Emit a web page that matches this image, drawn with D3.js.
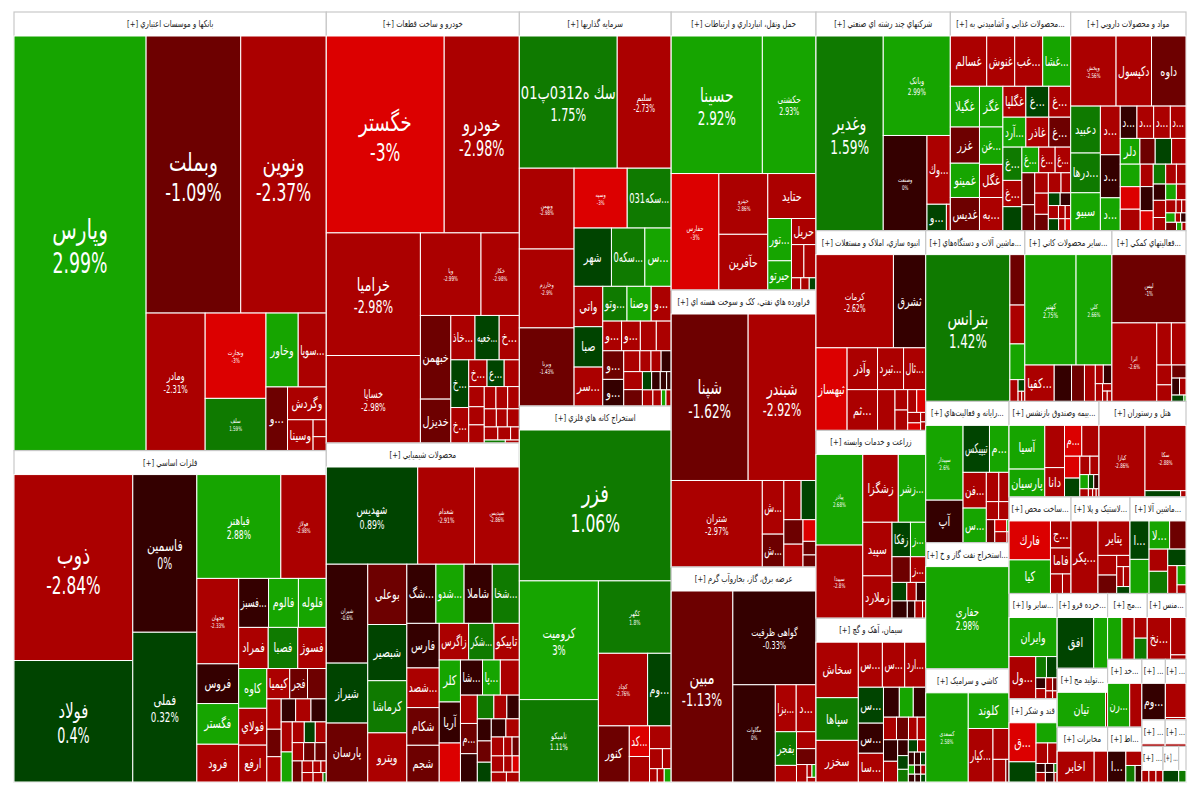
<!DOCTYPE html>
<html>
<head>
<meta charset="utf-8">
<style>
body { margin: 0; background: #fff; }
text { font-family: "DejaVu Sans", "Noto Sans", sans-serif; }
</style>
<script src="https://cdn.jsdelivr.net/npm/d3@7"></script>
</head>
<body>
<div id="viz"></div>
<script>
// [ticker, market weight, change %]  -- unlabelled small cells have an empty ticker
var banks = [["وپارس",53820,2.99],["وبملت",25760,-1.09],["ونوین",23300,-2.37],["ومادر",7980,-2.31],["ونجارت",5100,-3],["سلف",3120,1.59],["وخاور",2340,2.5],["سوپا...",2040,-2.5],["و...",1345,-1.5],["وگردش",1250,-2.5],["وسینا",775,-2.5],["",220,-2.5],["",180,-2.5]];
var metals = [["ذوب",21275,-2.84],["فولاد",13900,0.4],["فاسمین",9730,0],["فملی",9240,0.32],["فباهنر",8400,2.88],["فولاژ",4550,-2.98],["فجهان",3440,-2.33],["فروس",1600,-0.5],["فگستر",1640,2.5],["فرود",1520,-2.5],["فسبز...",1410,-0.5],["فالوم",1410,2.5],["فلوله",1316,2.5],["فمراد",1170,-2.5],["فصبا",1170,1.5],["فسوژ",1130,-2.5],["کاوه",1080,2.5],["فولاي",1000,-2.5],["ارفع",1000,-2.5],["کیمیا",670,-2.5],["فجر",520,-1.5],["",550,-1.5],["",420,-2.5],["",380,-1.5],["",350,-2.5],["",320,-0.5],["",340,-2.5],["",340,-0.5],["",320,-2.5],["",320,2.5],["",240,-2.5],["",220,0.5],["",220,-2.5],["",200,-2.5],["",200,-1.5],["",200,-1.5],["",200,-1.5],["",120,-2.5],["",90,-2.5],["",60,-2.5],["",100,-2.5],["",90,-2.5],["",30,1.5]];
var autos = [["خگستر",22270,-3],["خودرو",14200,-2.98],["خرامیا",11070,-2.98],["خساپا",7900,-2.98],["ویا",4800,-2.99],["خکار",3040,-2.98],["خبهمن",2440,-1.5],["خدیزل",1280,-1.5],["خاذ...",1030,-2.5],["خعبه...",1030,0.5],["خ...",860,-2.5],["خ...",820,0.5],["خ...",610,-2.5],["خ...",470,-2.5],["ع...",440,0.5],["",390,-2.5],["",300,-2.5],["",270,-2.5],["",270,-2.5],["",250,-2.5],["",250,-2.5],["",250,-2.5],["",210,-2.5],["",190,-2.5],["",210,-2.5],["",170,-2.5],["",160,-2.5],["",110,-2.5],["",60,1.5],["",40,-2.5]];
var chemicals = [["شهدیس",8370,0.89],["شغدام",5210,-2.91],["شپدیس",4100,-2.86],["شیران",3860,-0.6],["شیراز",2340,0.5],["پارسان",2300,-1.5],["بوعلي",2220,-1.5],["شبصیر",2070,0.5],["کرماشا",1920,1.5],["وپترو",1810,-2.5],["شگ...",1620,-0.5],["شدو...",1570,2.5],["شاملا",1570,-0.5],["شخا...",1510,1.5],["فارس",1360,-0.5],["شصد...",1210,-2.5],["شکام",1150,-1.5],["شجم",1120,-1.5],["زاگرس",1015,-2.5],["شکر...",875,1.5],["تاپیکو",875,-2.5],["کلر",840,2.5],["آریا",820,-0.5],["",780,-3],["شا...",730,-0.5],["پا...",590,2.5],["",630,-2.5],["",450,-2.5],["م...",480,-1.5],["",450,-0.5],["",370,1.5],["",290,-2.5],["",280,-0.5],["",290,-0.5],["",280,-1.5],["",260,0.5],["",250,-0.5],["",230,-2.5],["",220,-2.5],["",150,-2.5],["",130,-1.5],["",190,-2.5],["",130,-2.5],["",110,-3],["",140,-2.5],["",120,-2.5]];
var investments = [["سك ه0312پ01",12290,1.75],["سلیم",6780,-2.73],["وبهمن",4200,-2.98],["وخارزم",4100,-2.9],["وبرنا",4060,-1.43],["وسپه",3020,-3],["سکه031...",2500,1.5],["شهر",2070,0.5],["سکه0...",1850,1.5],["س...",1460,2.5],["واتي",1100,-2.5],["صبا",1100,0.5],["سر...",1060,-2.5],["وتو...",800,1.5],["وصنا",800,2.5],["و...",660,-2.5],["و...",530,-2.5],["و...",530,-2.5],["",450,-2.5],["",420,-2.5],["و...",570,-1.5],["و...",530,-0.5],["",320,-2.5],["",220,-2.5],["",200,-2.5],["",200,-0.5],["",320,-2.5],["",290,-1.5],["",160,0.5],["",150,-0.5],["",110,-0.5],["",80,-0.5],["",160,-2.5],["",130,-2.5],["",70,2.5],["",80,-2.5]];
var mining = [["فزر",22200,1.06],["کرومیت",9090,3],["تامیکو",6310,1.11],["کگهر",5110,1.8],["کچاد",3460,-2.76],["وم...",1660,0.5],["کنور",1680,-1.5],["کد...",600,-3],["",500,-2.5],["",480,-2.5],["",250,-2.5],["",170,-2.5],["",100,-2.5],["",90,-2.5],["",90,2.5]];
var transport = [["حسینا",12150,2.92],["حکشتی",7150,2.93],["حفارس",5380,-3],["حپترو",2880,-2.86],["حآفرین",2640,-2.5],["حتاید",2100,-2.5],["تور...",970,2.5],["حیرتو",670,2.5],["حریل",620,-2.5],["",400,-2.5],["",390,-2.5],["",110,-2.5],["",100,-2.5],["",80,0.5]];
var refining = [["شپنا",12300,-1.62],["شبندر",10850,-2.92],["شتران",7570,-2.97],["ش...",1110,-2.5],["ش...",680,-1.5],["",650,-2.5],["",560,0.5],["",450,-1.5],["",420,-2.5],["",270,-3],["",170,-1.5],["",150,-1.5]];
var power = [["مبین",11400,-1.13],["گواهی ظرفیت",7550,-0.33],["مگاوات",4000,0],["بزا...",950,-2.5],["د...",900,-2.5],["بفجر",690,1.5],["",340,-2.5],["",320,-2.5],["",300,-1.5],["",180,-2.5],["",60,-2.5],["",50,2.5],["",40,-2.5]];
var multi = [["وغدیر",12540,1.59],["وبانک",6400,2.99],["وصنعت",3990,0],["وك...",1540,-2.5],["و...",490,0.5],["",100,-2.5]];
var food = [["غسالم",1650,-2.5],["غنوش",1270,-2.5],["غب...",1270,-2.5],["غشا...",1270,2.5],["غگیلا",1070,2.5],["غزر",950,-1.5],["غمینو",900,2.5],["غدیس",870,-1.5],["غگز",860,2.5],["غن...",790,2.5],["غگل",700,-2.5],["به...",700,-2.5],["غگلپا",640,-2.5],["غ...",640,0.5],["غ...",610,-2.5],["آرد...",620,2.5],["غاذر",620,-2.5],["غ...",590,-1.5],["غ...",570,1.5],["غ...",450,-2.5],["",410,0.5],["غ...",390,2.5],["غ...",380,-2.5],["غ...",360,-2.5],["",370,-1.5],["",300,-1.5],["",250,-2.5],["",260,-2.5],["",200,-1.5],["",230,-2.5],["",175,-2.5],["",135,0.5],["",120,-0.5],["",120,-2.5],["",80,-2.5],["",65,-2.5],["",110,0.5],["",70,-2.5],["",60,-3]];
var pharma = [["وپخش",2830,-2.56],["دکپسول",2210,-2.5],["داوه",2150,-1.5],["دعبید",1240,1.5],["درها...",1050,1.5],["سبیو",1000,2.5],["د...",860,-2.5],["د...",760,-0.5],["د...",580,2.5],["د...",480,-0.5],["د...",480,-2.5],["د...",480,-2.5],["د...",450,-2.5],["دلر",450,2.5],["",350,-1.5],["",375,0.5],["",330,-2.5],["",400,2.5],["",400,-3],["",380,-2.5],["",260,-2.5],["",280,-0.5],["",230,-3],["",220,1.5],["",180,-0.5],["",190,-2.5],["",145,-2.5],["",190,-2.5],["",170,-2.5],["",150,2.5],["",135,-2.5],["",120,-2.5],["",65,-2.5],["",50,-2.5],["",80,2.5],["",45,-2.5],["",45,-0.5],["",80,-1.5],["",40,2.5],["",30,-2.5]];
var realEstate = [["کرمات",6690,-2.62],["ثشرق",2790,-0.5],["ثبهساز",2380,-3],["وآذر",1180,-2.5],["ثم...",1150,-2.5],["ثبرد...",1010,-2.5],["ثال...",860,-2.5],["",660,-2.5],["",240,-2.5],["",240,-2.5],["",190,-2.5],["",190,-3],["",125,-2.5],["",90,-3],["",45,-2.5],["",40,-2.5]];
var farming = [["پیاذر",3870,2.68],["سپیدا",3120,-2.8],["زشگزا",2200,-2.5],["زشر...",1700,2.5],["سپید",1430,-2.5],["زملارد",1130,-2.5],["زفکا",580,0.5],["ز...",480,2.5],["",430,-1.5],["ز...",360,-2.5],["",250,0.5],["",160,-2.5],["",160,-0.5],["",240,-0.5],["",120,-0.5],["",120,-2.5],["",50,-2.5]];
var cement = [["سخاش",2080,-2.5],["سپاها",1600,1.5],["سخزر",1560,-2.5],["س...",960,-2.5],["س...",890,-2.5],["ارد...",840,-2.5],["س...",800,0.5],["س...",670,-0.5],["سا...",640,-2.5],["",420,-0.5],["",370,2.5],["",330,-0.5],["",260,-2.5],["",240,-1.5],["",175,-2.5],["",170,-2.5],["",270,-0.5],["",260,-2.5],["",150,-0.5],["",130,0.5],["",120,1.5],["",100,0.5],["",90,-2.5],["",70,-0.5],["",70,-0.5],["",60,0.5],["",50,2.5],["",50,-0.5],["",40,-2.5],["",45,-0.5],["",40,-0.5],["",35,0.5]];
var machinery = [["بترانس",11800,1.42],["",720,-1.5],["",555,-2.5],["",510,2.5],["",170,-2.5],["",75,0.5],["",35,-2.5],["",30,-2.5]];
var minerals = [["کهتیر",5300,2.75],["کلي",3710,2.66],["کفپا...",1000,-2.5],["",590,-0.5],["",440,-1.5],["",370,-2.5],["",140,-2.5],["",150,-0.5],["",120,-2.5],["",65,-2.5],["",45,-2.5],["",45,-2.5]];
var support = [["لپس",4600,-1],["اترا",3200,-2.6],["",560,-2.5],["",560,-2.5],["",270,-2.5],["",225,-2.5],["",170,-1.5],["",120,-0.5],["",100,-2.5],["",70,0.5],["",12,2.5]];
var computing = [["سپیدار",2520,2.6],["آپ",1430,-0.5],["تیپیکس",1120,0.5],["م...",830,2.5],["فن...",750,-2.5],["س...",725,2.5],["",330,-2.5],["",270,-2.5],["",200,-2.5],["",170,-2.5],["",175,-1.5],["",130,-3],["",25,2.5],["",120,-2.5],["",20,-2.5]];
var oilGas = [["حفاری",8466,2.98]];
var tiles = [["کسعدی",3440,2.58],["کلوند",1320,2.5],["کپار...",1200,-2.5],["",450,-2.5],["",265,-2.5],["",65,-1.5]];
var insurance = [["آسیا",1350,2.5],["پارسیان",860,2.5],["",720,-2.5],["دانا",500,-2.5],["م...",460,-3],["",460,-2.5],["",290,-3],["",250,0.5],["",160,-2.5],["",145,-2.5],["",105,2.5],["",65,0.5],["",65,-0.5],["",60,-2.5],["",30,-2.5],["",25,-2.5],["",20,-2.5]];
var hotels = [["کبازا",2950,-2.86],["سکا",2400,-2.88],["",200,0.5],["",30,-2.5]];
var fabricated = [["فارك",1450,-3],["کیا",1250,2.5],["ج...",500,-2.5],["فاما",480,-2.5],["",210,-2.5],["",150,-2.5]];
var rubber = [["پکر...",1700,-2.5],["پتایر",960,-2.5],["",320,-2.5],["",300,-1.5],["",130,-2.5],["",115,-2.5],["",115,-2.5],["",80,0.5]];
var vehicles = [["ا...",620,0.5],["",550,2.5],["لا...",490,2.5],["",390,-1.5],["",350,-2.5],["",350,1.5],["",255,0.5],["",220,-2.5],["",145,2.5],["",65,-2.5]];
var otherTransport = [["وایران",1570,2.5],["ول...",940,-2.5],["",190,1.5],["",190,0.5],["",90,-0.5],["",85,-2.5],["",75,-2.5],["",50,-1.5],["",45,-2.5],["",30,-2.5]];
var sugar = [["ق...",890,-3],["",460,0.5],["",360,2.5],["",200,-2.5],["",165,-2.5],["",70,-0.5],["",65,-0.5],["",25,1.5],["",75,-2.5],["",70,-0.5],["",25,-2.5]];
var retail = [["افق",1600,0.5],["",610,2.5]];
var production = [["تیان",1400,2.5],["",60,-2.5]];
var telecom = [["اخابر",1020,-2.5],["",370,-2.5]];
var media = [["",480,2.5],["",410,-2.5],["",215,-2.5],["",220,1.5]];
var textiles = [["نخ...",780,-2.5],["",460,-2.5],["",55,-2.5]];
var wood = [["رن...",800,2.5],["",440,-2.5]];
var trade = [["ا...",480,-0.5],["",195,-2.5],["",130,1.5],["",95,-0.5]];
var small1 = [["وم...",780,-0.5]];
var small2 = [["",580,-2.5],["",40,-2.5]];
var small3 = [["",130,-2.5]];
var small4 = [["",60,-2.5]];
var small5 = [["",30,-2.5],["",30,-2.5],["",30,-2.5]];
var small6 = [["",130,0.5]];
var small7 = [["",25,1]];

var sectorNames = ["بانکها و موسسات اعتباري","فلزات اساسي","خودرو و ساخت قطعات","محصولات شيميايي","سرمايه گذاريها","استخراج کانه هاي فلزي","حمل ونقل، انبارداري و ارتباطات","فراورده هاي نفتي، کک و سوخت هسته اي","عرضه برق، گاز، بخاروآب گرم","شرکتهاي چند رشته اي صنعتي","محصولات غذايي و آشاميدني به...","مواد و محصولات دارويي","انبوه سازي، املاک و مستغلات","زراعت و خدمات وابسته","سيمان، آهک و گچ","ماشين آلات و دستگاه‌هاي...","ساير محصولات کاني...","فعاليتهاي کمکي...","رايانه و فعاليت‌هاي...","استخراج نفت گاز و خ...","کاشي و سراميک","بيمه وصندوق بازنشس...","هتل و رستوران","ساخت محص...","لاستيک و پلا...","ماشين آلا...","ساير وا...","قند و شکر","خرده فرو...","توليد مح...","مخابرات","مج...","منس...","خد...","اط...","...","...","...","...","...","...",""];
var sectorSizes = [136218,102941,82752,65088,59494,56776,40032,39888,30960,29212,26160,25070,21800,20492,17876,16830,14790,12580,11703,10458,9379,8550,8265,5952,5664,5376,5040,3984,3750,2950,2750,2600,2535,2312,1870,1416,1239,616,550,748,555,259];
var sectorCells = [banks,metals,autos,chemicals,investments,mining,transport,refining,power,multi,food,pharma,realEstate,farming,cement,machinery,minerals,support,computing,oilGas,tiles,insurance,hotels,fabricated,rubber,vehicles,otherTransport,sugar,retail,production,telecom,media,textiles,wood,trade,small1,small2,small3,small4,small5,small6,small7];

// how the weights are stacked: +n = next n items side by side in a column, -n = in a row on top
var sectorStrips = [2,2,2,3,-3,3,-3,3,-2,-3,2,3,-2,2,-2,-2,1,1,1];
var cellStrips = [
    [1,-2,1,2,-2,1,-1,1,2],
    [2,2,-2,4,-3,-3,3,-3,3,-3,2,-3,-3,1,-3,-3],
    [-2,2,-2,2,-3,2,-3,3,-3,-3,-3],
    [-3,3,4,-4,4,-3,3,-3,3,-3,3,-2,-3,-3,-2],
    [-2,3,-2,-3,3,-3,-4,2,-4,2,-4,-4],
    [-1,2,-1,-2,1,2,-1,-2,-3],
    [-2,1,2,-1,2,-1,-2,-3],
    [-2,1,2,-2,2,3],
    [1,-1,1,-2,2,-1,-1,1],
    [1,-1,1,-1,1,1],
    [-4,4,4,-3,-3,3,-3,2,3,-2,-2,-3,-3],
    [-3,3,3,-4,-4,3,3,4,-2,-2,-3,-3,-3],
    [-2,1,2,-2,1,2,-2],
    [2,-2,2,-2,-2,-3,-4],
    [3,-3,3,-3,-4,2,3,-2,-3,-3,-3],
    [1,-1,-1,-1,1,-1],
    [-2,1,1,1,1,-2,1,-1],
    [-1,1,-2,2,-1,-2,-2],
    [2,-2,2,-2,-2,1,-2,-2],
    [1],
    [1,-1,1,-1,1,1],
    [2,2,-2,2,-2,-3,-4],
    [1,-1,-2],
    [2,-1,-1,-2],
    [1,-1,2,-1,-2,-1],
    [2,-2,2,-1,1,-1,-1],
    [-1,1,-2,2,-2,-2],
    [2,-1,-2,-3,-3],
    [1,1],
    [1,1],
    [1,1],
    [1,1,-1,-1],
    [1,-1,-1],
    [1,1],
    [1,-1,1,1],
    [1],
    [-1,-1],
    [1],
    [1],
    [1,1,1],
    [1],
    [1]
];

// cells that print their change under the ticker
var withChange = new Set(["وپارس","وبملت","ونوین","ومادر","ونجارت","سلف","ذوب","فولاد","فاسمین","فملی","فباهنر","فولاژ","فجهان","خگستر","خودرو","خرامیا","خساپا","ویا","خکار","شهدیس","شغدام","شپدیس","شیران","سك ه0312پ01","سلیم","وبهمن","وسپه","وخارزم","وبرنا","فزر","کرومیت","تامیکو","کگهر","کچاد","حسینا","حکشتی","حفارس","حپترو","شپنا","شبندر","شتران","مبین","گواهی ظرفیت","مگاوات","وغدیر","وبانک","وصنعت","وپخش","کرمات","پیاذر","سپیدا","بترانس","کهتیر","کلي","لپس","اترا","سپیدار","حفاری","کسعدی","کبازا","سکا"]);

var width = 1172, height = 770, headerH = 24, nameSqueeze = 0.72, pctSqueeze = 0.62;

var color = d3.scaleThreshold()
    .domain([-2.995, -2, -0.99, 0.01, 1, 2])
    .range(["#dc0000", "#ab0000", "#6d0000", "#340000", "#004400", "#0f7a00", "#16a500"]);

var labelSize = d3.scaleLinear()
    .domain([70, 90, 110, 150, 190, 235])
    .range([6.5, 11, 19, 25, 27, 28])
    .clamp(true);

// tile along the given strips, anything left over is squarified
function stripTile(plan) {
    return function(parent, x0, y0, x1, y1) {
        var kids = parent.children, i = 0, rest = parent.value;
        plan.forEach(function(n) {
            var part = kids.slice(i, i + Math.abs(n));
            var sum = d3.sum(part, function(k) { return k.value; });
            var strip = {children: part, value: sum};
            if (n > 0) {
                var xm = x0 + (x1 - x0) * sum / rest;
                d3.treemapSlice(strip, x0, y0, xm, y1);
                x0 = xm;
            } else {
                var ym = y0 + (y1 - y0) * sum / rest;
                d3.treemapDice(strip, x0, y0, x1, ym);
                y0 = ym;
            }
            i += Math.abs(n);
            rest -= sum;
        });
        if (i < kids.length) {
            d3.treemapSquarify({children: kids.slice(i), value: rest}, x0, y0, x1, y1);
        }
    };
}

var svg = d3.select("#viz").append("svg")
    .attr("width", 1200)
    .attr("height", 800)
    .append("g")
    .attr("transform", "translate(14,12)");

var root = d3.hierarchy({children: sectorNames.map(function(n, i) {
    return {name: n, size: sectorSizes[i], cells: sectorCells[i], strips: cellStrips[i]};
})}).sum(function(d) { return d.size || 0; });

d3.treemap().tile(stripTile(sectorStrips)).size([width, height])(root);

var sector = svg.selectAll("g.sector")
    .data(root.children)
    .enter().append("g")
    .attr("class", "sector")
    .attr("transform", function(d) { return "translate(" + d.x0 + "," + d.y0 + ")"; });

sector.append("rect")
    .attr("width", function(d) { return d.x1 - d.x0; })
    .attr("height", function(d) { return d.y1 - d.y0; })
    .attr("fill", "#fff")
    .attr("stroke", "#c8c8c8")
    .attr("stroke-width", 1.2);

sector.filter(function(d) { return d.data.name; }).append("text")
    .attr("fill", "#222")
    .attr("font-size", 9.5)
    .attr("text-anchor", "middle")
    .text(function(d) { return "[+] " + d.data.name; })
    .attr("transform", function(d) {
        var w = d.x1 - d.x0;
        var sx = Math.min(0.72, (w - 2) / this.getComputedTextLength());
        return "translate(" + w / 2 + ",15) scale(" + sx + ",1)";
    });

sector.each(function(s) {
    var w = s.x1 - s.x0, h = Math.max(s.y1 - s.y0 - headerH, 1);
    var inner = d3.hierarchy({children: s.data.cells.map(function(c) {
        return {name: c[0], size: c[1], change: c[2]};
    })}).sum(function(d) { return d.size || 0; });

    d3.treemap().tile(stripTile(s.data.strips)).size([w, h])(inner);

    var cell = d3.select(this).append("g")
        .attr("transform", "translate(0," + headerH + ")")
        .selectAll("g")
        .data(inner.children)
        .enter().append("g")
        .attr("transform", function(d) { return "translate(" + d.x0 + "," + d.y0 + ")"; });

    cell.append("rect")
        .attr("width", function(d) { return d.x1 - d.x0; })
        .attr("height", function(d) { return d.y1 - d.y0; })
        .attr("fill", function(d) { return color(d.data.change); })
        .attr("stroke", "#fff")
        .attr("stroke-width", 1);

    cell.filter(function(d) { return d.data.name; }).each(function(d) {
        var cw = d.x1 - d.x0, ch = d.y1 - d.y0;
        var g = d3.select(this);
        var t = g.append("text")
            .attr("fill", "#fff")
            .attr("text-anchor", "middle");

        if (!withChange.has(d.data.name)) {
            // ticker only: keep the height, narrow it to fit
            t.attr("font-size", 13.5).text(d.data.name);
            var sx = Math.min(nameSqueeze, (cw - 4) / t.node().getComputedTextLength());
            t.attr("transform", "translate(" + cw / 2 + "," + (ch / 2 + 4.5) + ") scale(" + sx + ",1)");
            return;
        }

        var fs = labelSize(Math.sqrt(cw * ch));
        t.attr("font-size", fs).text(d.data.name);
        var p = g.append("text")
            .attr("fill", "#fff")
            .attr("text-anchor", "middle")
            .attr("font-size", fs)
            .text(d.data.change + "%");
        var longest = Math.max(t.node().getComputedTextLength() * nameSqueeze,
            p.node().getComputedTextLength() * pctSqueeze);
        var size = fs * Math.min(1, (cw - 3) / longest);
        t.attr("font-size", size)
            .attr("transform", "translate(" + cw / 2 + "," + (ch / 2 - size * 0.15) + ") scale(" + nameSqueeze + ",1)");
        p.attr("font-size", size)
            .attr("transform", "translate(" + cw / 2 + "," + (ch / 2 + size * 1.05) + ") scale(" + pctSqueeze + ",1)");
    });
});
</script>
</body>
</html>
